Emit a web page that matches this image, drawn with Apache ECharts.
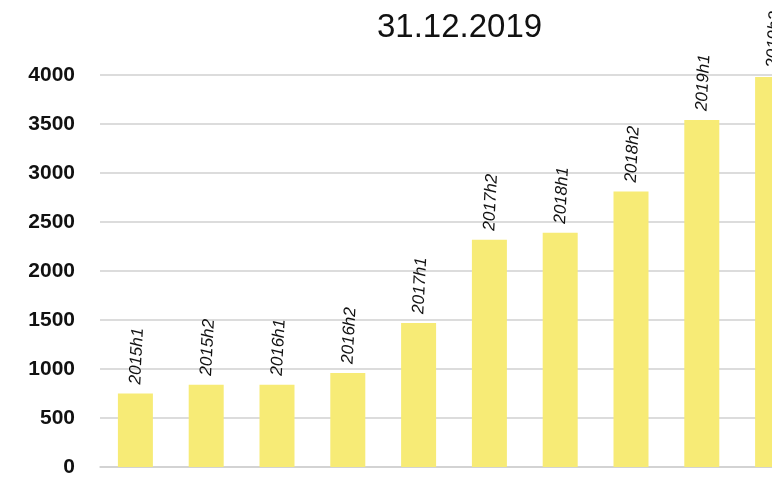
<!DOCTYPE html>
<html><head><meta charset="utf-8">
<script src="https://cdn.jsdelivr.net/npm/echarts@6/dist/echarts.min.js"></script>
<style>html,body{margin:0;padding:0;background:#fff}#c{width:772px;height:481px}</style>
</head><body><div id="c"></div>
<script>
const titleText = '31.12.2019';
const categories = ['2015h1','2015h2','2016h1','2016h2','2017h1','2017h2','2018h1','2018h2','2019h1','2019h2'];
const values = [750, 840, 840, 960, 1470, 2320, 2390, 2810, 3540, 3980];
const yTicks = [0, 500, 1000, 1500, 2000, 2500, 3000, 3500, 4000];

const chart = echarts.init(document.getElementById('c'));
chart.setOption({
  animation: false,
  title: {
    text: titleText, left: 372, top: 6,
    textStyle: {fontFamily: 'Liberation Sans', fontSize: 33, fontWeight: 'normal', color: '#111'}
  },
  grid: {left: 100, width: 708, top: 75, height: 392, containLabel: false, outerBoundsMode: 'none'},
  xAxis: {
    type: 'category', data: categories,
    axisLine: {show: true, lineStyle: {color: '#d0d0d0', width: 1.5}},
    axisTick: {show: false}, axisLabel: {show: false}
  },
  yAxis: {
    type: 'value', min: yTicks[0], max: yTicks[yTicks.length-1], interval: 500,
    axisLine: {show: false}, axisTick: {show: false},
    splitLine: {lineStyle: {color: '#d0d0d0', width: 1.5}},
    axisLabel: {margin: 25, padding: [10,0,0,0], formatter: v => String(v),
      fontFamily: 'Liberation Sans', fontWeight: 'bold', fontSize: 21, color: '#111'}
  },
  series: [{
    type: 'bar', data: values, barWidth: 35,
    itemStyle: {color: '#F7EB76'},
    label: {
      show: true, position: 'top', distance: 9, rotate: 87,
      align: 'left', verticalAlign: 'middle',
      formatter: p => categories[p.dataIndex],
      fontFamily: 'Liberation Sans', fontStyle: 'italic', fontSize: 17, color: '#111'
    }
  }]
});
</script></body></html>
